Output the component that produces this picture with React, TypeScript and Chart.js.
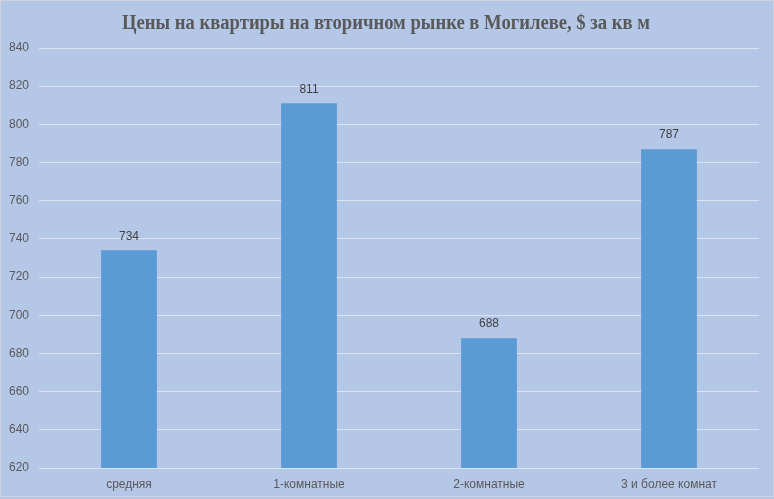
import React, { useEffect, useRef } from "react";
import { Chart, registerables } from "chart.js";

Chart.register(...registerables);

const TITLE = "Цены на квартиры на вторичном рынке в Могилеве, $ за кв м";
const categories = ["средняя", "1-комнатные", "2-комнатные", "3 и более комнат"];
const prices = [734, 811, 688, 787];
const yMin = 620;
const yMax = 840;
const yStep = 20;

const W = 774;
const H = 499;

const framePlugin = {
  id: "frame",
  beforeDraw(chart: any) {
    const ctx = chart.ctx;
    ctx.save();
    ctx.fillStyle = "#b4c7e7";
    ctx.fillRect(0, 0, chart.width, chart.height);
    ctx.strokeStyle = "#d0d4da";
    ctx.lineWidth = 1;
    ctx.strokeRect(0.5, 0.5, chart.width - 1, chart.height - 3);
    ctx.fillStyle = "#595959";
    ctx.font = "bold 20px 'Liberation Serif', serif";
    ctx.textAlign = "center";
    ctx.textBaseline = "alphabetic";
    const w = ctx.measureText(TITLE).width;
    const sx = 528 / w;
    ctx.translate(386, 28.5);
    ctx.scale(sx, 1);
    ctx.fillText(TITLE, 0, 0);
    ctx.restore();
  },
  afterDatasetsDraw(chart: any) {
    const ctx = chart.ctx;
    const meta = chart.getDatasetMeta(0);
    ctx.save();
    ctx.fillStyle = "#404040";
    ctx.font = "12px 'Liberation Sans', sans-serif";
    ctx.textAlign = "center";
    ctx.textBaseline = "middle";
    meta.data.forEach((el: any, i: number) => {
      ctx.fillText(String(chart.data.datasets[0].data[i]), el.x, el.y - 14);
    });
    ctx.restore();
  },
};

export default function App() {
  const ref = useRef<HTMLCanvasElement | null>(null);
  useEffect(() => {
    if (!ref.current) return;
    const chart = new Chart(ref.current, {
      type: "bar",
      data: {
        labels: categories,
        datasets: [
          {
            data: prices,
            backgroundColor: "#5b9bd5",
            categoryPercentage: 1,
            barPercentage: 0.31,
          },
        ],
      },
      options: {
        responsive: false,
        animation: false,
        devicePixelRatio: 1,
        layout: { padding: { top: 48, left: 0, right: 15, bottom: 0 } },
        plugins: {
          legend: { display: false },
          title: { display: false },
          tooltip: { enabled: false },
        },
        scales: {
          x: {
            grid: { display: false, drawTicks: false },
            border: { display: false },
            ticks: {
              color: "#595959",
              font: { family: "'Liberation Sans', sans-serif", size: 12 },
              padding: 9,
            },
            afterFit(scale: any) {
              scale.height = 31;
            },
          },
          y: {
            min: yMin,
            max: yMax,
            grid: { color: "#dbe3f2", drawTicks: false, lineWidth: 1 },
            border: { display: false },
            ticks: {
              stepSize: yStep,
              color: "#595959",
              font: { family: "'Liberation Sans', sans-serif", size: 12 },
              padding: 10,
            },
            afterFit(scale: any) {
              scale.width = 39;
            },
          },
        },
      },
      plugins: [framePlugin],
    });
    return () => chart.destroy();
  }, []);
  return (
    <div style={{ position: "fixed", left: 0, top: 0, width: W, height: H }}>
      <canvas ref={ref} width={W} height={H} style={{ width: W, height: H }} />
    </div>
  );
}
